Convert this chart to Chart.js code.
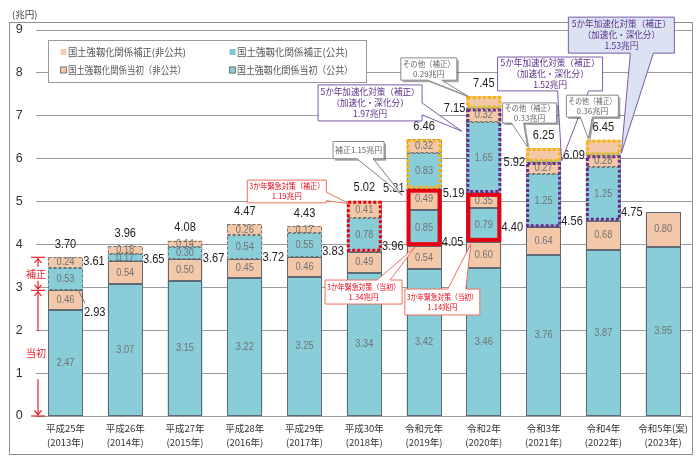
<!DOCTYPE html>
<html><head><meta charset="utf-8">
<script src="https://cdn.jsdelivr.net/npm/chart.js@4"></script>
<style>html,body{margin:0;padding:0;background:#fff}canvas{display:block}</style>
</head><body>
<canvas id="c" width="700" height="461" style="width:700px;height:461px"></canvas>
<script>
// ---- data ----
const categories = [
  ["平成25年","(2013年)"],["平成26年","(2014年)"],["平成27年","(2015年)"],["平成28年","(2016年)"],
  ["平成29年","(2017年)"],["平成30年","(2018年)"],["令和元年","(2019年)"],["令和2年","(2020年)"],
  ["令和3年","(2021年)"],["令和4年","(2022年)"],["令和5年(案)","(2023年)"]
];
const initialPublic    = [2.47,3.07,3.15,3.22,3.25,3.34,3.42,3.46,3.76,3.87,3.95];
const initialNonPublic = [0.46,0.54,0.50,0.45,0.46,0.49,0.54,0.60,0.64,0.68,0.80];
const emergencyPublic    = [null,null,null,null,null,null,0.85,0.79,null,null,null];
const emergencyNonPublic = [null,null,null,null,null,null,0.49,0.35,null,null,null];
const supplPublic    = [0.53,0.17,0.30,0.54,0.55,0.78,0.83,1.65,1.25,1.25,null];
const supplNonPublic = [0.24,0.18,0.14,0.26,0.17,0.41,0.32,0.32,0.27,0.28,null];
const otherPublic    = [null,null,null,null,null,null,null,0.05,0.05,0.05,null];
const otherNonPublic = [null,null,null,null,null,null,null,0.24,0.28,0.31,null];
const initialTotalLabels = ["2.93","3.61","3.65","3.67","3.72","3.83","3.96","4.05","4.40","4.56","4.75"];
const emergencyTotalLabels = [null,null,null,null,null,null,"5.31","5.19",null,null,null];
const supplTotalLabels = [null,null,null,null,null,null,null,"7.15","5.92","6.09",null];
const grandTotalLabels = ["3.70","3.96","4.08","4.47","4.43","5.02","6.46","7.45","6.25","6.45",null];
const legendLabels = ["国土強靱化関係補正(非公共)","国土強靱化関係補正(公共)","国土強靱化関係当初（非公共）","国土強靱化関係当初（公共）"];

// ---- styles ----
const TEAL='#88cdd8', PEACH='#f2c8a8';
const RED='#e60012', ORANGE='#f7b50c', PURPLE='#6a2c8f';
const NUM='"Liberation Sans", Arial, sans-serif';
const JP='"Noto Sans CJK JP", "Noto Sans", sans-serif';

function txt(ctx, s, x, y, font, color, align, sx, maxW){
  ctx.save(); ctx.font=font; ctx.fillStyle=color; ctx.textBaseline='middle'; ctx.textAlign=align||'center';
  ctx.translate(x,y);
  let k = sx||1;
  if (maxW){ const w=ctx.measureText(s).width; if (w*k>maxW) k=maxW/w; }
  ctx.scale(k,1); ctx.fillText(s,0,0); ctx.restore();
}
function seg(chart,d,i){
  const v=chart.data.datasets[d].data[i];
  if(v==null) return null;
  const el=chart.getDatasetMeta(d).data[i];
  return {l:el.x-el.width/2, r:el.x+el.width/2, t:Math.min(el.y,el.base), b:Math.max(el.y,el.base), cx:el.x, cy:(el.y+el.base)/2, v};
}
function callout(ctx, c, st){
  const [x0,y0,x1,y1]=c.box, [b0,b1]=c.base, [tx,ty]=c.tip;
  ctx.save();
  ctx.beginPath(); ctx.moveTo(x0,y0);
  if(c.side==='top'){ctx.lineTo(b0,y0);ctx.lineTo(tx,ty);ctx.lineTo(b1,y0);}
  ctx.lineTo(x1,y0);
  if(c.side==='right'){ctx.lineTo(x1,b0);ctx.lineTo(tx,ty);ctx.lineTo(x1,b1);}
  ctx.lineTo(x1,y1);
  if(c.side==='bottom'){ctx.lineTo(b1,y1);ctx.lineTo(tx,ty);ctx.lineTo(b0,y1);}
  ctx.lineTo(x0,y1);
  ctx.closePath();
  if(st.shadow){ctx.shadowColor='rgba(0,0,0,0.35)';ctx.shadowOffsetX=2;ctx.shadowOffsetY=2;}
  ctx.fillStyle=st.fill; ctx.fill();
  ctx.shadowColor='transparent';
  ctx.lineWidth=1; ctx.strokeStyle=st.stroke; ctx.stroke();
  ctx.restore();
  const cx=(x0+x1)/2, cy=(y0+y1)/2, n=c.lines.length;
  c.lines.forEach((s,k)=>txt(ctx,s,cx,cy+(k-(n-1)/2)*st.lh,st.font,st.color,'center',1,(x1-x0)-4));
}
function arrowHead(ctx,x,y,dir){
  ctx.beginPath(); ctx.moveTo(x-3.5,y+dir*4); ctx.lineTo(x,y); ctx.lineTo(x+3.5,y+dir*4); ctx.stroke();
}

const overlay = {
  id:'overlay',
  beforeDraw(chart){
    const c=chart.ctx; c.save();
    c.fillStyle='#fff'; c.fillRect(0,0,chart.width,chart.height);
    c.strokeStyle='#8f8f8f'; c.lineWidth=1; c.strokeRect(9.5,22.5,683,432);
    c.restore();
    txt(c,'(兆円)',12,14,'9.5px '+JP,'#444','left');
  },
  afterDatasetsDraw(chart){
    const ctx=chart.ctx, xs=chart.scales.x, ys=chart.scales.y;
    const X=i=>xs.getPixelForValue(i), Y=v=>ys.getPixelForValue(v);
    const n=categories.length;
    // segment outlines
    ctx.save(); ctx.lineWidth=1;
    for(let d=0; d<6; d++) for(let i=0;i<n;i++){
      const s=seg(chart,d,i); if(!s) continue;
      ctx.setLineDash(d>=4?[3,2]:[]);
      ctx.strokeStyle = d>=4 ? '#707070' : '#5d6a74';
      const l=Math.round(s.l)+0.5, r=Math.round(s.r)-0.5, t=Math.round(s.t)+0.5, b=Math.round(s.b)-0.5;
      ctx.strokeRect(l,t,r-l,b-t);
    }
    ctx.restore();
    // group boxes
    const groups=[
      {i:5,ds:[4,5],c:RED,w:3,dash:[3,2]},
      {i:6,ds:[2,3],c:RED,w:4,dash:[]},
      {i:6,ds:[4,5],c:ORANGE,w:3,dash:[3,2]},
      {i:7,ds:[2,3],c:RED,w:4,dash:[]},
      {i:7,ds:[4,5],c:PURPLE,w:3,dash:[3,2]},
      {i:7,ds:[6,7],c:ORANGE,w:3,dash:[3,2]},
      {i:8,ds:[4,5],c:PURPLE,w:3,dash:[3,2]},
      {i:8,ds:[6,7],c:ORANGE,w:3,dash:[3,2]},
      {i:9,ds:[4,5],c:PURPLE,w:3,dash:[3,2]},
      {i:9,ds:[6,7],c:ORANGE,w:3,dash:[3,2]},
    ];
    ctx.save();
    groups.forEach(g=>{
      const ss=g.ds.map(d=>seg(chart,d,g.i)).filter(Boolean);
      const l=ss[0].l, r=ss[0].r, t=Math.min(...ss.map(s=>s.t)), b=Math.max(...ss.map(s=>s.b));
      ctx.strokeStyle=g.c; ctx.lineWidth=g.w; ctx.setLineDash(g.dash); ctx.lineCap='butt';
      ctx.strokeRect(l+g.w/2, t+g.w/2, r-l-g.w, b-t-g.w);
    });
    ctx.restore();
    // segment value labels
    for(let d=0; d<6; d++) for(let i=0;i<n;i++){
      const s=seg(chart,d,i); if(!s) continue;
      txt(ctx, s.v.toFixed(2), s.cx, s.cy, '11px '+NUM, '#727272','center',0.84);
    }
    // totals
    const TF='13.5px '+NUM, TC='#222';
    for(let i=0;i<n;i++){
      const base = seg(chart,1,i);
      const bl = base.l;
      const initTop = initialPublic[i]+initialNonPublic[i];
      if(i===0){
        ctx.save(); ctx.strokeStyle='#555'; ctx.lineWidth=0.8; ctx.beginPath();
        ctx.moveTo(base.r-4, Y(initTop)+1); ctx.lineTo(base.r+2, Y(initTop)+13); ctx.stroke(); ctx.restore();
        txt(ctx, initialTotalLabels[i], base.r+1, Y(initTop)+22, TF, TC, 'left', 0.82);
      } else {
        txt(ctx, initialTotalLabels[i], bl-3, Y(initTop), TF, TC, 'right', 0.82);
      }
      let lvl = initTop;
      if(emergencyTotalLabels[i]){
        lvl += emergencyPublic[i]+emergencyNonPublic[i];
        txt(ctx, emergencyTotalLabels[i], bl-2, Y(lvl), TF, TC, 'right', 0.82);
      }
      if(supplPublic[i]!=null) lvl += supplPublic[i]+supplNonPublic[i];
      if(supplTotalLabels[i]) txt(ctx, supplTotalLabels[i], bl-1, Y(lvl), TF, TC, 'right', 0.82);
      if(otherPublic[i]!=null) lvl += otherPublic[i]+otherNonPublic[i];
      if(grandTotalLabels[i]) txt(ctx, grandTotalLabels[i], base.cx, Y(lvl)-13, TF, TC, 'center', 0.82);
    }
    // left red markers
    ctx.save(); ctx.strokeStyle='#e8202a'; ctx.lineWidth=1.2;
    const ax=38, top=Y(initialPublic[0]+initialNonPublic[0]+supplPublic[0]+supplNonPublic[0]), mid=Y(initialPublic[0]+initialNonPublic[0]), zero=Y(0);
    [top,mid,zero].forEach(y=>{ctx.beginPath();ctx.moveTo(31,y);ctx.lineTo(45,y);ctx.stroke();});
    const hm=(top+mid)/2;
    ctx.beginPath(); ctx.moveTo(ax,top+1); ctx.lineTo(ax,hm-7); ctx.stroke(); arrowHead(ctx,ax,top+1.5,1);
    ctx.beginPath(); ctx.moveTo(ax,hm+7); ctx.lineTo(ax,mid-1); ctx.stroke(); arrowHead(ctx,ax,mid-1.5,-1);
    const lm=(mid+zero)/2;
    ctx.beginPath(); ctx.moveTo(ax,mid+1); ctx.lineTo(ax,lm-22); ctx.stroke(); arrowHead(ctx,ax,mid+1.5,1);
    ctx.beginPath(); ctx.moveTo(ax,lm+26); ctx.lineTo(ax,zero-1); ctx.stroke(); arrowHead(ctx,ax,zero-1.5,-1);
    ctx.restore();
    txt(ctx,'補正',36,hm,'10px '+JP,'#e8202a','center');
    txt(ctx,'当初',36,lm,'10px '+JP,'#e8202a','center');
    // legend
    ctx.save(); ctx.fillStyle='#fff'; ctx.fillRect(48.5,40.5,318,42); ctx.strokeStyle='#9a9a9a'; ctx.lineWidth=1; ctx.strokeRect(48.5,40.5,318,42); ctx.restore();
    const li=[
      {x:60,y:52,c:'#f3ccb2',b:null,w:118},{x:229,y:52,c:'#7fc6d3',b:null,w:111},
      {x:60,y:70,c:PEACH,b:'#666',w:118},{x:229,y:70,c:TEAL,b:'#666',w:116}
    ];
    li.forEach((it,k)=>{
      ctx.save();
      if(it.b){ctx.fillStyle=it.c;ctx.fillRect(it.x,it.y-3.5,7,7);ctx.strokeStyle=it.b;ctx.lineWidth=0.8;ctx.strokeRect(it.x+0.5,it.y-3,6,6);}
      else {ctx.fillStyle=it.c;ctx.fillRect(it.x+0.5,it.y-3,6,6);}
      ctx.restore();
      txt(ctx, legendLabels[k], it.x+8, it.y, '10px '+JP, '#555', 'left', 1, it.w);
    });
    // callouts
    const gray={fill:'#fff',stroke:'#8a8a8a',color:'#666',font:'8px '+JP,lh:10,shadow:true};
    const red={fill:'#fff',stroke:'#ef6f5e',color:RED,font:'7.6px '+JP,lh:10};
    const pur={fill:'#fff',stroke:'#7d5aa8',color:'#5b2d8c',font:'8.6px '+JP,lh:11};
    const purF={fill:'#dbe3f2',stroke:'#7d5aa8',color:'#5b2d8c',font:'8.6px '+JP,lh:11};
    const cals=[
      [{box:[X(6)-91,Y(6.40),X(6)-40,Y(6.00)],side:'bottom',base:[X(6)-67,X(6)-51],tip:[X(6)-22,Y(5.15)],lines:['補正1.15兆円']},gray],
      [{box:[X(5)-117,Y(5.50),X(5)-38,Y(4.97)],side:'right',base:[Y(5.22),Y(5.02)],tip:[X(5)-15,Y(4.95)],lines:['3か年緊急対策（補正）','1.19兆円']},red],
      [{box:[X(6)-99,Y(3.17),X(6)-22,Y(2.61)],side:'top',base:[X(6)-47,X(6)-34],tip:[X(6)-9,Y(3.94)],lines:['3か年緊急対策（当初）','1.34兆円']},red],
      [{box:[X(7)-79,Y(2.96),X(7)-4,Y(2.355)],side:'top',base:[X(7)-36,X(7)-18],tip:[X(7)-13,Y(4.01)],lines:['3か年緊急対策（当初）','1.14兆円']},red],
      [{box:[X(6)-106,Y(7.72),X(6)-2,Y(6.88)],side:'right',base:[Y(7.30),Y(7.02)],tip:[X(7)-22,Y(6.64)],lines:['5か年加速化対策（補正）','（加速化・深化分）','1.97兆円']},pur],
      [{box:[X(7)-83,Y(8.35),X(7)-27,Y(7.83)],side:'bottom',base:[X(7)-56,X(7)-42],tip:[X(7)-16,Y(7.46)],lines:['その他（補正）','0.29兆円']},gray],
      [{box:[X(8)-46,Y(8.37),X(8)+59,Y(7.58)],side:'bottom',base:[X(8)+14,X(8)+45],tip:[X(8)+18,Y(5.95)],lines:['5か年加速化対策（補正）','（加速化・深化分）','1.52兆円']},pur],
      [{box:[X(8)-41,Y(7.30),X(8)+13,Y(6.83)],side:'bottom',base:[X(8)-32,X(8)-20],tip:[X(8)-16,Y(6.27)],lines:['その他（補正）','0.33兆円']},gray],
      [{box:[X(9)-37,Y(7.48),X(9)+15,Y(6.97)],side:'bottom',base:[X(9)-23,X(9)-11],tip:[X(9)-15,Y(6.46)],lines:['その他（補正）','0.36兆円']},gray],
      [{box:[X(9)-35,Y(9.30),X(9)+71,Y(8.46)],side:'bottom',base:[X(9)+27,X(9)+50],tip:[X(9)+18,Y(6.13)],lines:['5か年加速化対策（補正）','（加速化・深化分）','1.53兆円']},purF],
    ];
    cals.forEach(([c,st])=>callout(ctx,c,st));
  }
};

const mk=(label,data,color)=>({label,data,backgroundColor:color,borderWidth:0,barPercentage:0.585,categoryPercentage:1});
new Chart(document.getElementById('c').getContext('2d'),{
  type:'bar',
  data:{labels:categories,datasets:[
    mk('当初(公共)',initialPublic,TEAL),
    mk('当初(非公共)',initialNonPublic,PEACH),
    mk('緊急当初(公共)',emergencyPublic,TEAL),
    mk('緊急当初(非公共)',emergencyNonPublic,PEACH),
    mk('補正(公共)',supplPublic,TEAL),
    mk('補正(非公共)',supplNonPublic,PEACH),
    mk('その他(公共)',otherPublic,TEAL),
    mk('その他(非公共)',otherNonPublic,PEACH),
  ]},
  options:{
    responsive:false, animation:false, devicePixelRatio:1,
    layout:{padding:{left:0,right:7,top:30,bottom:8}},
    plugins:{legend:{display:false},tooltip:{enabled:false}},
    scales:{
      x:{stacked:true, grid:{display:false,drawTicks:false}, border:{display:false},
         ticks:{autoSkip:false,maxRotation:0,padding:6,color:'#333',font:{family:JP,size:9.5,lineHeight:1.4}},
         afterFit(s){s.height=37;}},
      y:{stacked:true, min:0, max:9, grid:{color:'#9a9a9a',drawTicks:false}, border:{display:false},
         ticks:{stepSize:1,padding:13,color:'#333',font:{family:NUM,size:12.5}},
         afterFit(s){s.width=35.6;}}
    }
  },
  plugins:[overlay]
});
</script>
</body></html>
